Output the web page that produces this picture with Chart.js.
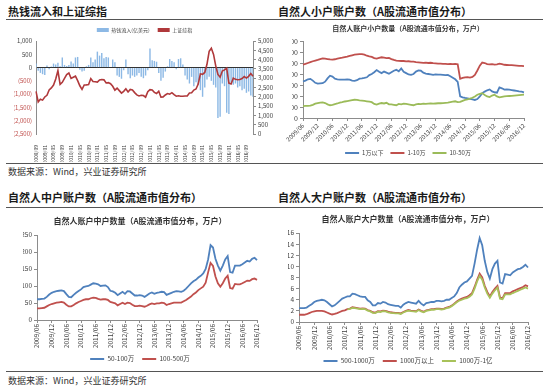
<!DOCTYPE html>
<html><head><meta charset="utf-8">
<script src="https://cdn.jsdelivr.net/npm/chart.js@4.4.0/dist/chart.umd.min.js"></script>
<style>
body{margin:0;width:550px;height:392px;background:#fff;position:relative;overflow:hidden;font-family:'Noto Sans CJK SC',sans-serif}
.h{position:absolute;font-size:11px;font-weight:700;color:#1a1a1a;line-height:13px;white-space:nowrap}
.s{position:absolute;font-size:9px;color:#333;line-height:11px;white-space:nowrap}
.ln{position:absolute;height:1px;background:#555}
canvas{position:absolute}
</style></head><body>
<div class="h" style="left:8px;top:5px">热钱流入和上证综指</div>
<div class="h" style="left:278px;top:5px">自然人小户账户数（A股流通市值分布）</div>
<div class="ln" style="left:6px;top:19px;width:537px"></div>
<div class="ln" style="left:6px;top:163px;width:537px"></div>
<div class="s" style="left:8px;top:166px">数据来源：Wind，兴业证券研究所</div>
<div class="h" style="left:8px;top:191px">自然人中户账户数（A股流通市值分布）</div>
<div class="h" style="left:278px;top:191px">自然人大户账户数（A股流通市值分布）</div>
<div class="ln" style="left:6px;top:207px;width:537px"></div>
<div class="ln" style="left:6px;top:371px;width:537px"></div>
<div class="s" style="left:8px;top:375px">数据来源：Wind，兴业证券研究所</div>

<canvas id="c1" width="275" height="152" style="left:0;top:10px"></canvas>
<canvas id="c2" width="275" height="140" style="left:275px;top:22px"></canvas>
<canvas id="c3" width="275" height="160" style="left:0;top:210px"></canvas>
<canvas id="c4" width="275" height="160" style="left:275px;top:210px"></canvas>

<script>
function monthRange(y0, m0, y1, m1) {
  const a = []; let y = y0, m = m0;
  while (y < y1 || (y === y1 && m <= m1)) { a.push(y + '/' + String(m).padStart(2, '0')); m++; if (m > 12) { m = 1; y++; } }
  return a;
}
// Categories
const hotCategories = monthRange(2008, 9, 2016, 12);   // 100 months
const acctCategories = monthRange(2009, 6, 2016, 12);  // 91 months

// 热钱流入 (亿美元)
const hotMoney = [
  150, -120, -200, -250, -280, 80, -60, 40, 150, 120,
  180, 50, 380, 100, 60, 100, 230, 150, 380, 400,
  -80, -150, -120, 50, 100, 380, 200, 300, 600, 450,
  550, 350, 400, 380, -20, 300, 200, -300, -350, -420,
  -100, 300, -250, -400, -300, -350, -300, -200, -350, -400,
  -300, -100, 720, 280, 250, 220, -200, -500, -380, -150,
  50, 320, 250, 200, -60, 320, 350, 120, -300, -450,
  -600, -350, -700, -550, -650, -850, -1100, -750, -450, -350,
  -500, -650, -750, -1900, -1850, -600, -700, -1700, -1750, -550,
  -650, -600, -750, -700, -850, -800, -950, -900, -1050, -1100
];
// 上证综指
const shIndex = [
  2294, 1729, 1871, 1821,
  1991, 2083, 2373, 2478, 2633, 2959, 3412, 2668, 2779, 2996, 3195, 3277,
  2989, 3052, 3109, 2871, 2592, 2398, 2638, 2639, 2656, 2979, 2820, 2808,
  2791, 2905, 2928, 2912, 2743, 2762, 2702, 2567, 2359, 2468, 2333, 2199,
  2293, 2428, 2263, 2396, 2372, 2225, 2104, 2048, 2086, 2069, 1980, 2269,
  2385, 2366, 2237, 2178, 2301, 1979, 1994, 2098, 2175, 2142, 2221, 2116,
  2033, 2056, 2033, 2026, 2039, 2048, 2202, 2217, 2364, 2420, 2683, 3235,
  3210, 3310, 3748, 4442, 4612, 4277, 3664, 3206, 3053, 3383, 3445, 3539,
  2738, 2688, 3004, 2938, 2917, 2930, 2979, 3085, 3005, 3100, 3250, 3104
];

// 小户 (万户)
const small1w = [
  1660, 1700, 1760, 1780, 1700, 1600, 1560, 1570, 1580, 1650,
  1800, 1920, 1880, 1790, 1760, 1740, 1740, 1740, 1750, 1740,
  1700, 1690, 1720, 1790, 1800, 1820, 1850, 1950, 2000, 2080,
  2180, 2100, 2040, 2110, 2060, 2010, 2080, 2150, 2190, 2120,
  2250, 2100, 2040, 1980, 1960, 2000, 2110, 2160, 2150, 2060,
  2020, 2000, 1980, 1960, 1980, 1970, 1970, 1960, 1950, 1960,
  1900, 1830, 1760, 1640, 980, 940, 910, 890, 870, 850,
  820, 860, 980, 1130, 1200, 1260, 1300, 1210, 1170, 1150,
  1390, 1350, 1290, 1300, 1290, 1270, 1250, 1230, 1210, 1200,
  1170
];
const small1to10w = [
  2430, 2460, 2500, 2540, 2580, 2610, 2640, 2680, 2710, 2700,
  2680, 2660, 2650, 2670, 2700, 2720, 2740, 2770, 2790, 2820,
  2850, 2880, 2890, 2900, 2900, 2880, 2830, 2800, 2780, 2720,
  2700, 2730, 2760, 2740, 2720, 2730, 2680, 2640, 2610, 2600,
  2590, 2590, 2570, 2580, 2560, 2560, 2540, 2530, 2520, 2510,
  2520, 2500, 2510, 2490, 2480, 2470, 2470, 2460, 2460, 2450,
  2460, 2450, 2460, 2440, 1780, 1820, 1850, 1860, 1840, 1870,
  1960, 2160, 2380, 2520, 2500, 2450, 2440, 2450, 2430, 2440,
  2470, 2450, 2420, 2410, 2400, 2400, 2390, 2380, 2370, 2370,
  2360
];
const small10to50w = [
  540, 550, 550, 560, 600, 650, 680, 700, 710, 680,
  620, 580, 600, 630, 660, 700, 720, 750, 770, 790,
  810, 830, 820, 800, 790, 780, 760, 740, 720, 640,
  610, 650, 680, 660, 690, 620, 620, 600, 580, 640,
  620, 650, 640, 620, 600, 580, 620, 640, 630, 650,
  640, 650, 660, 650, 660, 670, 670, 680, 690, 700,
  720, 740, 760, 720, 730, 780, 820, 850, 880, 920,
  980, 1060, 1100, 1130, 1050, 980, 950, 1020, 1060, 980,
  940, 960, 980, 990, 1000, 1010, 1020, 1030, 1040, 1050,
  1060
];

// 中户 (万户)
const mid50to100w = [
  61, 61, 62, 63, 68, 75, 80, 83, 85, 86,
  87, 85, 76, 68, 67, 74, 80, 85, 90, 97,
  99, 100, 104, 108, 107, 105, 100, 101, 102, 97,
  86, 84, 80, 73, 78, 83, 77, 85, 84, 78,
  72, 72, 73, 72, 68, 73, 78, 81, 77, 80,
  81, 83, 82, 74, 77, 80, 83, 85, 84, 83,
  86, 92, 100, 108, 114, 118, 125, 130, 137, 150,
  178, 220, 213, 180, 160, 145, 160, 178, 188, 141,
  139, 160, 160, 160, 164, 169, 174, 172, 180, 183,
  176
];
const mid100to500w = [
  34, 34, 35, 36, 40, 44, 47, 49, 51, 52,
  53, 51, 45, 40, 40, 44, 49, 53, 56, 59,
  61, 61, 64, 66, 65, 62, 60, 61, 61, 59,
  53, 51, 49, 43, 47, 51, 47, 51, 50, 45,
  41, 41, 42, 41, 39, 42, 46, 49, 47, 49,
  49, 51, 50, 44, 47, 49, 51, 51, 51, 51,
  55, 59, 64, 69, 76, 81, 88, 93, 98, 110,
  140, 168, 159, 128, 108, 98, 108, 122, 130, 94,
  92, 106, 105, 105, 108, 112, 116, 115, 120, 122,
  118
];

// 大户 (万户)
const big500to1000w = [
  2.5, 2.5, 2.5, 2.6, 2.9, 3.2, 3.6, 3.8, 3.9, 4.0,
  3.9, 3.6, 3.2, 2.8, 3.0, 3.4, 3.8, 4.2, 4.4, 4.6,
  4.6, 5.1, 5.0, 4.8, 4.6, 4.5, 4.5, 3.9, 3.6, 3.0,
  3.0, 3.4, 3.3, 3.6, 3.5, 3.2, 3.1, 3.0, 2.9, 2.9,
  2.6, 3.1, 3.4, 3.6, 3.5, 3.4, 3.3, 3.8, 3.3, 3.0,
  3.4, 3.5, 3.6, 3.6, 3.8, 3.8, 3.7, 3.8, 4.0, 4.0,
  4.3, 4.6, 5.2, 6.2, 6.7, 7.1, 7.3, 7.8, 8.3, 10.5,
  13.0, 15.1, 13.8, 11.0, 9.0, 7.8, 9.5, 10.5, 11.0, 7.1,
  6.9, 8.6, 8.5, 8.4, 8.9, 9.2, 9.5, 9.6, 9.9, 10.3,
  9.8
];
const big1000wPlus = [
  1.3, 1.3, 1.3, 1.4, 1.6, 1.8, 1.9, 2.0, 2.0, 2.0,
  1.9, 1.7, 1.5, 1.35, 1.45, 1.6, 1.8, 2.0, 2.1, 2.3,
  2.4, 2.65, 2.6, 2.5, 2.4, 2.45, 2.4, 2.15, 2.0, 1.75,
  1.7, 1.95, 1.9, 2.05, 2.0, 1.85, 1.75, 1.7, 1.65, 1.65,
  1.55, 1.8, 2.0, 2.15, 2.05, 2.0, 1.95, 2.25, 2.0, 1.85,
  2.1, 2.2, 2.3, 2.3, 2.4, 2.4, 2.35, 2.4, 2.6, 2.7,
  2.95, 3.3, 3.7, 4.0, 4.2, 4.4, 4.5, 4.8, 5.2, 6.3,
  7.6, 8.7, 8.0, 6.5, 5.4, 4.6, 5.4, 6.0, 6.5, 4.4,
  4.3, 5.2, 5.2, 5.2, 5.5, 5.7, 5.9, 6.1, 6.3, 6.6,
  6.4
];
const big1000wTo1yi = [
  null, null, null, null, null, null, null, null, null, null,
  null, null, null, null, null, null, null, null, null, 2.25,
  2.35, 2.55, 2.5, 2.4, 2.3, 2.35, 2.3, 2.05, 1.9, 1.65,
  1.6, 1.85, 1.8, 1.95, 1.9, 1.75, 1.65, 1.6, 1.55, 1.55,
  1.45, 1.7, 1.9, 2.05, 1.95, 1.9, 1.85, 2.15, 1.9, 1.75,
  2.0, 2.1, 2.2, 2.2, 2.3, 2.3, 2.25, 2.3, 2.5, 2.6,
  2.85, 3.2, 3.55, 3.85, 4.0, 4.2, 4.3, 4.55, 4.95, 6.0,
  7.3, 8.3, 7.6, 6.2, 5.1, 4.35, 5.1, 5.7, 6.2, 4.2,
  4.1, 4.95, 4.95, 4.95, 5.2, 5.4, 5.6, 5.8, 6.0, 6.2,
  6.0
];

const BLUE = '#4F81BD', RED = '#C0504D', GREEN = '#9BBB59';
const AXIS = '#8c8c8c';

Chart.defaults.font.family = "'Noto Sans CJK SC', 'Noto Sans', sans-serif";
Chart.defaults.color = '#404040';
Chart.defaults.animation = false;

const legendSort = (a, b) => a.datasetIndex - b.datasetIndex;
const genLabels = chart => Chart.defaults.plugins.legend.labels.generateLabels(chart).map(l => Object.assign(l, { lineWidth: 0 }));
const fmtParen = v => v === 0 ? '0' : (v < 0 ? '(' + Math.abs(v).toLocaleString('en-US') + ')' : v.toLocaleString('en-US'));

function lineDS(label, data, color, order) {
  return { label, data, borderColor: color, backgroundColor: color, borderWidth: 1.8, pointRadius: 0, tension: 0, order };
}

// ---- Chart 1: hot money + SH index ----
new Chart(document.getElementById('c1'), {
  type: 'bar',
  data: {
    labels: hotCategories,
    datasets: [
      { label: '热钱流入(亿美元)', data: hotMoney, yAxisID: 'y', backgroundColor: '#8DB9E5', barPercentage: 0.65, categoryPercentage: 1, order: 1 },
      { type: 'line', label: '上证综指', data: shIndex, yAxisID: 'y1', borderColor: '#B0393B', backgroundColor: '#B0393B', borderWidth: 1.6, pointRadius: 0, tension: 0, order: 0 }
    ]
  },
  options: {
    responsive: false, animation: false,
    layout: { padding: { left: 14, right: 0, top: 9.5, bottom: 0 } },
    plugins: {
      legend: { position: 'top', maxHeight: 21.5, labels: { font: { size: 5 }, padding: 8, boxWidth: 12, boxHeight: 4, sort: legendSort, generateLabels: genLabels } },
      tooltip: { enabled: false }
    },
    scales: {
      x: {
        offset: false, grid: { display: false }, border: { display: false },
        ticks: { autoSkip: false, maxRotation: 90, minRotation: 90, font: { size: 5 }, padding: 3,
          callback: (v, i) => i % 4 === 0 ? hotCategories[i] : null },
        afterFit: s => { s.height = 28; }
      },
      y: {
        position: 'left', min: -2500, max: 1000,
        ticks: { stepSize: 500, autoSkip: false, font: { size: 6 }, padding: 4, color: c => c.tick && c.tick.value < 0 ? '#C0504D' : '#404040', callback: v => fmtParen(v) },
        grid: { color: c => c.tick && c.tick.value === 0 ? '#333' : 'rgba(0,0,0,0)', drawTicks: false },
        border: { display: true, color: AXIS },
        afterFit: s => { s.width = 22; }
      },
      y1: {
        position: 'right', min: 0, max: 5000,
        ticks: { stepSize: 500, autoSkip: false, font: { size: 6 }, padding: 2 },
        grid: { drawOnChartArea: false, tickLength: 3, color: AXIS },
        border: { color: AXIS },
        afterFit: s => { s.width = 22; }
      }
    }
  }
});

function acctChart(id, cfg) {
  return new Chart(document.getElementById(id), {
    type: 'line',
    data: { labels: acctCategories, datasets: cfg.datasets },
    options: {
      responsive: false, animation: false,
      layout: { padding: { left: cfg.padL, right: cfg.padR, top: 0, bottom: 0 } },
      plugins: {
        title: { display: true, text: cfg.title, font: { size: cfg.titleSize, weight: 'bold' }, color: '#333', padding: { top: cfg.titleTop, bottom: cfg.titleBottom } },
        legend: { position: 'bottom', maxHeight: cfg.legendMax, labels: { font: { size: cfg.legendSize }, padding: cfg.legendPad, boxWidth: 14, boxHeight: 2, sort: legendSort, generateLabels: genLabels } },
        tooltip: { enabled: false }
      },
      scales: {
        x: {
          offset: false,
          grid: { display: true, drawOnChartArea: false, tickLength: 3, color: AXIS },
          border: { color: AXIS },
          ticks: { autoSkip: false, maxRotation: cfg.rot, minRotation: cfg.rot, font: { size: cfg.xSize }, padding: 1,
            callback: (v, i) => i % 6 === 0 ? acctCategories[i] : null },
          afterFit: s => { s.height = cfg.xH; }
        },
        y: {
          min: 0, max: cfg.yMax,
          ticks: { stepSize: cfg.yStep, autoSkip: false, font: { size: cfg.ySize }, padding: 2 },
          grid: { drawOnChartArea: false, tickLength: 3, color: AXIS },
          border: { color: AXIS },
          afterFit: s => { s.width = cfg.yW; }
        }
      }
    }
  });
}

acctChart('c2', {
  title: '自然人账户小户数量（A股流通市值分布，万户）', titleSize: 7, titleTop: 1.8, titleBottom: 8.8,
  padL: 17, padR: 26, yW: 11, xH: 25, rot: 45, xSize: 6, yMax: 3500, yStep: 500, ySize: 7,
  legendMax: 19, legendPad: 7, legendSize: 6,
  datasets: [lineDS('1万以下', small1w, BLUE, 2), lineDS('1-10万', small1to10w, RED, 1), lineDS('10-50万', small10to50w, GREEN, 0)]
});

acctChart('c3', {
  title: '自然人账户中户数量（A股流通市值分布，万户）', titleSize: 8, titleTop: 6.3, titleBottom: 9.1,
  padL: 23, padR: 18, yW: 14, xH: 27.75, rot: 90, xSize: 6.5, yMax: 250, yStep: 50, ySize: 6.5,
  legendMax: 22.25, legendPad: 8, legendSize: 6.5,
  datasets: [lineDS('50-100万', mid50to100w, BLUE, 1), lineDS('100-500万', mid100to500w, RED, 0)]
});

acctChart('c4', {
  title: '自然人账户大户数量（A股流通市值分布，万户）', titleSize: 8, titleTop: 4.3, titleBottom: 9.1,
  padL: 13, padR: 22, yW: 11, xH: 27.75, rot: 90, xSize: 6.5, yMax: 16, yStep: 2, ySize: 6.5,
  legendMax: 20.25, legendPad: 8, legendSize: 6.5,
  datasets: [lineDS('500-1000万', big500to1000w, BLUE, 2), lineDS('1000万以上', big1000wPlus, RED, 1), lineDS('1000万-1亿', big1000wTo1yi, '#A8C25A', 0)]
});
</script>
</body></html>
